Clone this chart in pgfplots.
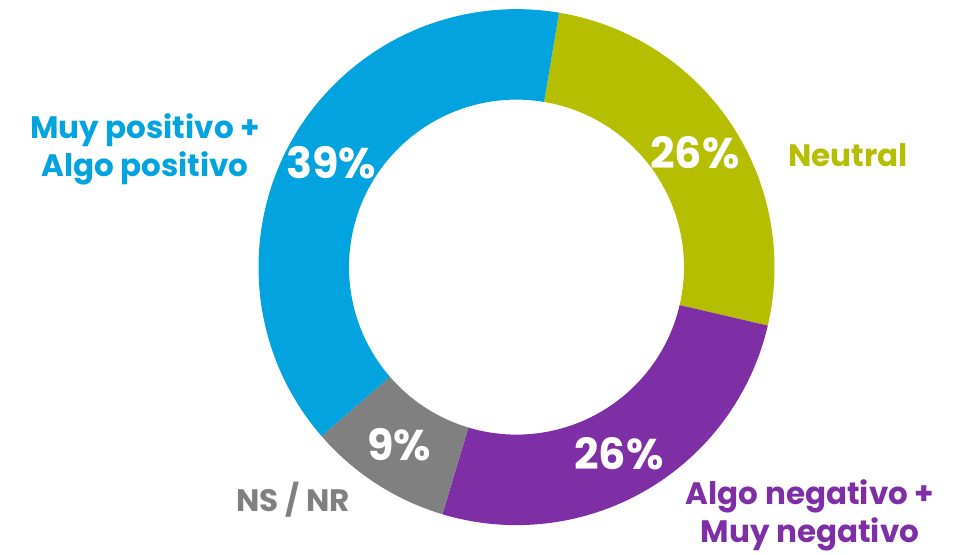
\documentclass[border=0pt]{standalone}
\usepackage{fontspec}
\setmainfont{Poppins}
\usepackage{pgfplots}
\usepackage{pgfplotstable}
\pgfplotsset{compat=1.18}
\definecolor{cpos}{RGB}{3,163,223}
\definecolor{cneu}{RGB}{181,190,0}
\definecolor{cneg}{RGB}{127,47,165}
\definecolor{cns}{RGB}{128,128,128}
\pgfplotstableread{
pct col
26 cneu
26 cneg
9 cns
39 cpos
}\donut
\begin{document}
\begin{tikzpicture}
\begin{axis}[x=1pt,y=1pt,xmin=0,xmax=961,ymin=0,ymax=551,hide axis,clip=false,
  scale only axis]
\path (axis cs:0,0) rectangle (axis cs:961,551);
\xdef\ang{80.5}
\foreach \i in {0,1,2,3}{
  \pgfplotstablegetelem{\i}{pct}\of{\donut}
  \pgfmathsetmacro{\a}{\ang}
  \pgfmathsetmacro{\b}{\ang-3.6*\pgfplotsretval}
  \pgfmathsetmacro{\xo}{516.5+258*cos(\a)}
  \pgfmathsetmacro{\yo}{284+258*sin(\a)}
  \pgfmathsetmacro{\xi}{516.5+167.5*cos(\b)}
  \pgfmathsetmacro{\yi}{284+167.5*sin(\b)}
  \pgfplotstablegetelem{\i}{col}\of{\donut}
  \edef\tmp{\noexpand\fill[\pgfplotsretval] (axis cs:\xo,\yo) arc[start angle=\a,end angle=\b,radius=258pt] -- (axis cs:\xi,\yi) arc[start angle=\b,end angle=\a,radius=167.5pt] -- cycle;}
  \tmp
  \xdef\ang{\b}
}
\begin{scope}[every node/.style={font=\fontsize{43}{47}\selectfont\bfseries, text=white}]
\node at (axis cs:331,388) {39\%};
\node at (axis cs:695,398) {26\%};
\node at (axis cs:399,106) {9\%};
\node at (axis cs:619,97) {26\%};
\end{scope}
\begin{scope}[every node/.style={font=\fontsize{31}{38}\selectfont\bfseries, align=center}]
\node[text=cpos] at (axis cs:145,402) {Muy positivo +\\Algo positivo};
\node[text=cneu] at (axis cs:848,396) {Neutral};
\node[text=cns] at (axis cs:293,51) {NS / NR};
\node[text=cneg] at (axis cs:810,36) {Algo negativo +\\Muy negativo};
\end{scope}
\end{axis}
\end{tikzpicture}
\end{document}
